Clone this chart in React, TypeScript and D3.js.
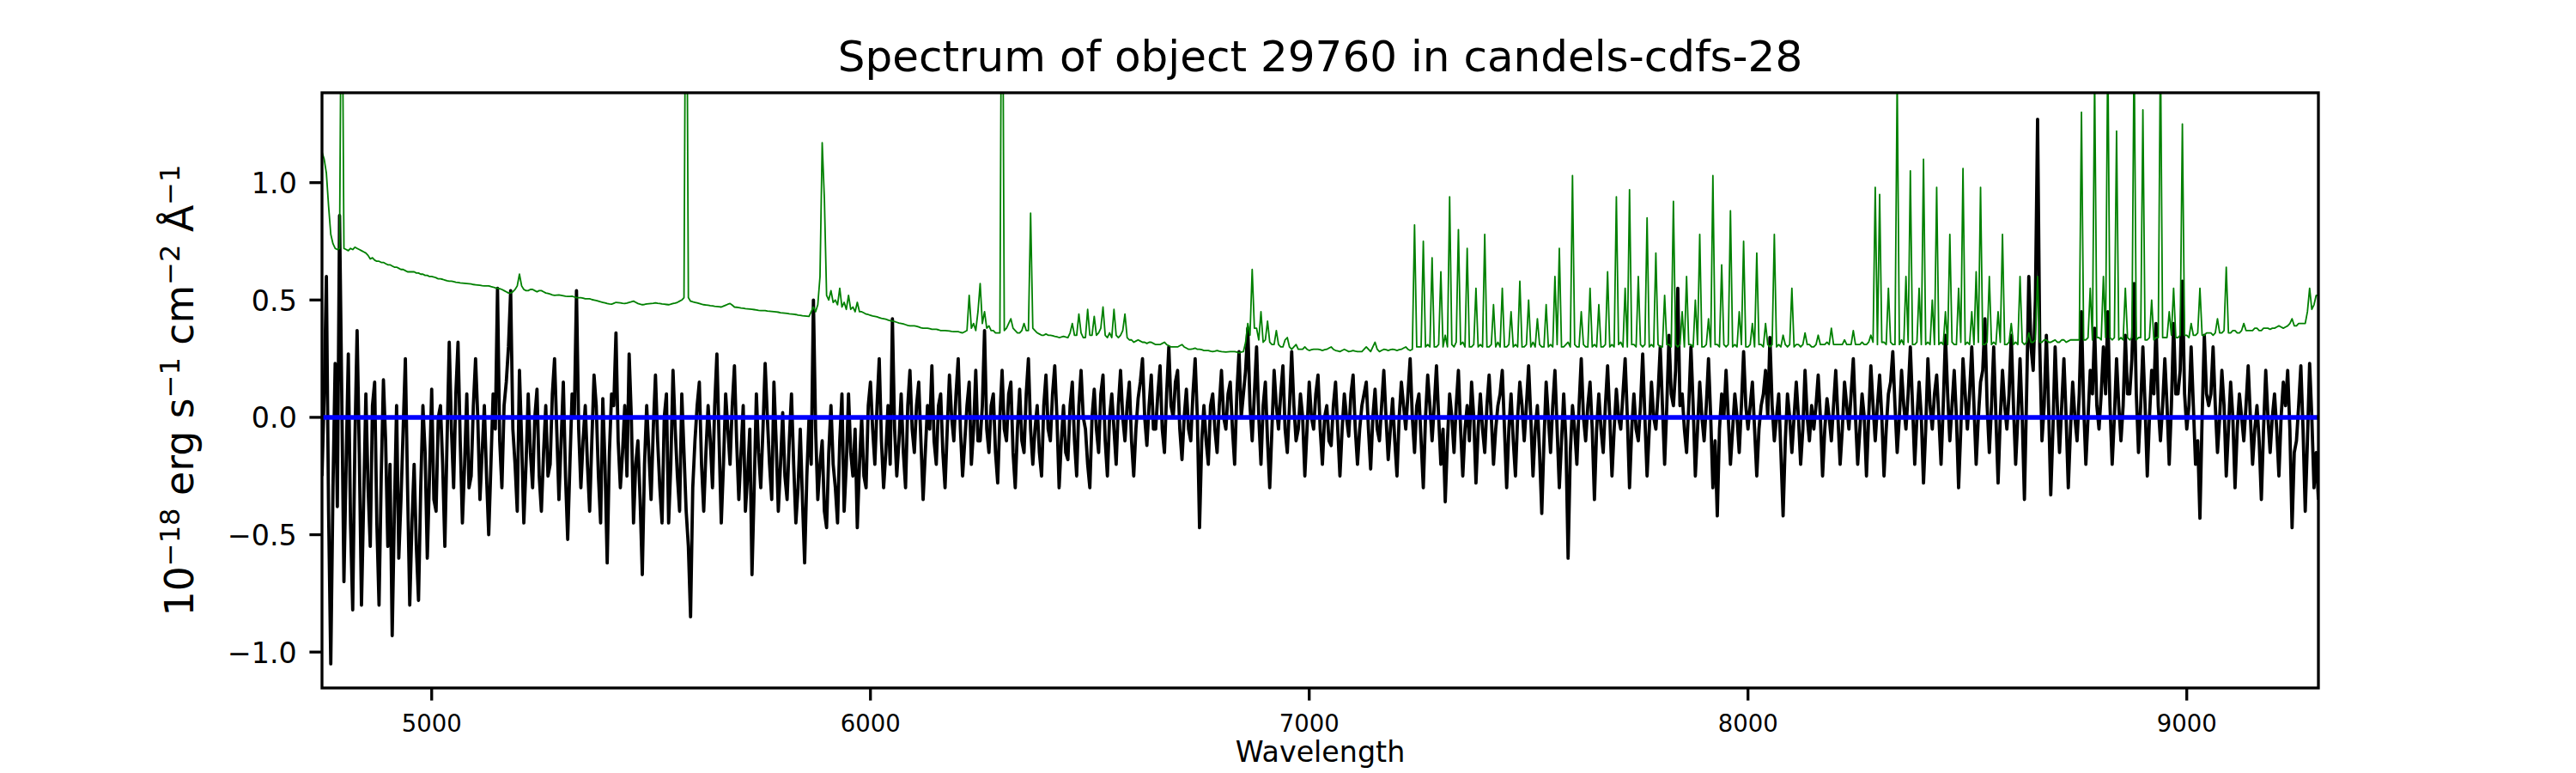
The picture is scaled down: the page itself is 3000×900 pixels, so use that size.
import React, { useMemo } from 'react';
import * as d3 from 'd3';

// wavelength grid of the extracted spectrum (Angstrom)
const WAVE_START = 4750;
const WAVE_STEP = 5;

// object flux, 1e-18 erg/s/cm2/A, one row per 100 A
const FLUX = [
  -0.25, 0.1, 0.6, -0.4, -1.05, -0.3, 0.23, -0.38, 0.86, 0.1, -0.7, -0.2, 0.27, -0.45, -0.82, -0.1, 0.37, -0.15, -0.8, -0.35, // 4750
  0.1, -0.3, -0.55, 0.05, 0.15, -0.45, -0.8, -0.25, 0.16, -0.1, -0.55, -0.2, -0.93, -0.4, 0.05, -0.6, -0.35, -0.05, 0.25, -0.3, // 4850
  -0.8, -0.45, -0.2, -0.55, -0.78, -0.3, 0.05, -0.15, -0.6, -0.25, 0.12, -0.35, -0.4, 0.0, 0.05, -0.2, -0.55, -0.1, 0.32, -0.05, // 4950
  -0.3, 0.1, 0.32, -0.1, -0.45, -0.2, 0.1, -0.3, -0.25, 0.05, 0.25, 0.0, -0.35, -0.15, 0.05, -0.25, -0.5, -0.2, 0.1, -0.05, // 5050
  0.55, -0.1, -0.3, 0.05, 0.15, 0.3, 0.54, -0.05, -0.2, -0.4, 0.2, -0.1, -0.45, -0.2, 0.1, -0.15, -0.3, 0.0, 0.12, -0.25, // 5150
  -0.4, -0.15, 0.05, -0.25, -0.2, 0.1, 0.25, -0.05, -0.35, -0.1, 0.15, -0.25, -0.52, -0.2, 0.1, 0.0, 0.54, -0.05, -0.3, -0.1, // 5250
  0.05, -0.2, -0.4, -0.1, 0.18, 0.05, -0.25, -0.45, 0.08, -0.2, -0.62, -0.15, 0.1, 0.05, 0.36, -0.1, -0.3, -0.15, 0.05, -0.25, // 5350
  0.27, 0.0, -0.45, -0.2, -0.1, -0.35, -0.67, -0.2, 0.05, -0.15, -0.35, -0.05, 0.18, -0.1, -0.3, -0.45, 0.0, 0.1, -0.45, -0.2, // 5450
  0.2, -0.05, -0.25, -0.4, 0.1, -0.15, -0.4, -0.55, -0.85, -0.3, -0.1, 0.05, 0.15, -0.2, -0.4, -0.15, 0.05, -0.1, -0.3, 0.05, // 5550
  0.27, -0.1, -0.45, -0.2, 0.1, -0.05, -0.2, 0.05, 0.22, -0.1, -0.35, -0.15, 0.05, -0.4, -0.25, -0.05, -0.67, -0.3, 0.1, -0.15, // 5650
  -0.3, -0.05, 0.23, 0.0, -0.2, -0.35, 0.15, -0.1, -0.4, -0.2, 0.02, -0.25, -0.35, -0.1, 0.1, -0.2, -0.45, -0.3, -0.05, -0.35, // 5750
  -0.62, -0.25, 0.0, -0.2, 0.5, -0.05, -0.35, -0.2, -0.1, -0.4, -0.47, -0.15, 0.05, -0.2, -0.3, -0.45, -0.1, 0.1, -0.4, -0.2, // 5850
  0.1, -0.15, -0.25, -0.05, -0.47, -0.2, 0.0, -0.25, -0.3, 0.05, 0.15, -0.05, -0.2, 0.05, 0.25, -0.1, -0.3, -0.15, 0.05, -0.2, // 5950
  0.42, -0.05, -0.25, -0.1, 0.1, -0.15, -0.3, 0.05, 0.2, -0.05, -0.15, 0.05, 0.15, -0.1, -0.35, -0.15, 0.05, -0.05, 0.22, -0.1, // 6050
  -0.2, 0.05, 0.1, -0.15, -0.3, -0.05, 0.18, 0.0, -0.1, 0.1, 0.25, -0.05, -0.25, -0.1, 0.05, 0.15, -0.2, -0.05, 0.2, -0.1, // 6150
  -0.1, 0.05, 0.37, -0.05, -0.15, 0.05, 0.1, -0.15, -0.28, 0.0, 0.2, -0.05, -0.1, 0.1, 0.15, -0.15, -0.3, -0.05, 0.12, -0.1, // 6250
  -0.15, 0.1, 0.25, -0.05, -0.2, -0.05, 0.05, -0.15, -0.25, 0.05, 0.18, -0.05, -0.1, 0.1, 0.22, 0.0, -0.3, -0.1, 0.05, -0.15, // 6350
  -0.18, 0.05, 0.15, -0.1, -0.25, 0.05, 0.2, 0.0, -0.05, -0.2, -0.3, 0.0, 0.12, -0.05, -0.15, 0.1, 0.18, -0.1, -0.25, 0.0, // 6450
  0.1, -0.05, -0.2, 0.05, 0.2, 0.0, -0.1, 0.05, 0.15, -0.1, -0.25, -0.05, 0.08, 0.15, 0.25, 0.0, -0.12, 0.05, 0.18, -0.05, // 6550
  -0.05, 0.1, 0.22, -0.05, -0.15, 0.1, 0.3, 0.05, 0.0, 0.15, 0.2, -0.05, -0.18, 0.0, 0.12, -0.05, -0.1, 0.1, 0.25, 0.0, // 6650
  -0.47, -0.1, 0.05, -0.1, -0.2, 0.05, 0.1, -0.05, -0.15, 0.05, 0.2, 0.0, -0.05, 0.1, 0.15, -0.05, -0.2, 0.1, 0.28, 0.0, // 6750
  0.1, 0.2, 0.38, 0.05, -0.1, 0.1, 0.3, 0.0, -0.2, 0.05, 0.15, -0.1, -0.3, -0.05, 0.2, 0.05, -0.05, 0.1, 0.22, -0.05, // 6850
  -0.15, 0.05, 0.28, 0.05, -0.1, -0.05, 0.1, 0.0, -0.25, -0.05, 0.15, 0.0, -0.05, 0.1, 0.18, -0.05, -0.2, 0.0, 0.05, -0.1, // 6950
  -0.12, 0.05, 0.15, -0.05, -0.25, -0.05, 0.1, 0.0, -0.08, 0.1, 0.18, -0.05, -0.2, -0.05, 0.05, 0.1, 0.15, -0.05, -0.22, 0.0, // 7050
  0.12, -0.05, -0.1, 0.05, 0.2, 0.0, -0.18, -0.05, 0.08, -0.1, -0.25, 0.0, 0.15, 0.05, -0.05, 0.1, 0.25, 0.0, -0.15, 0.05, // 7150
  0.1, -0.1, -0.3, 0.0, 0.18, 0.05, -0.1, 0.05, 0.22, 0.0, -0.2, -0.05, -0.36, -0.1, 0.1, 0.0, -0.15, 0.05, 0.2, -0.05, // 7250
  -0.25, -0.05, 0.05, -0.1, 0.15, 0.0, -0.28, -0.05, 0.1, -0.05, -0.15, 0.05, 0.18, 0.0, -0.2, -0.05, 0.05, 0.1, 0.2, -0.05, // 7350
  -0.3, -0.05, 0.1, -0.1, -0.25, 0.0, 0.15, 0.05, -0.1, 0.05, 0.22, 0.0, -0.25, -0.05, 0.05, -0.15, -0.41, -0.1, 0.15, 0.0, // 7450
  -0.15, 0.05, 0.2, -0.05, -0.3, -0.1, 0.1, -0.1, -0.6, -0.15, 0.05, -0.05, -0.2, 0.05, 0.25, 0.0, -0.1, 0.05, 0.15, -0.05, // 7550
  -0.35, -0.05, 0.1, -0.05, -0.15, 0.05, 0.22, 0.0, -0.25, -0.05, 0.12, 0.0, -0.05, 0.1, 0.25, 0.0, -0.3, -0.05, 0.1, -0.05, // 7650
  -0.1, 0.05, 0.27, 0.0, -0.25, -0.05, 0.15, 0.0, -0.05, 0.1, 0.3, 0.05, -0.2, 0.05, 0.35, 0.1, 0.05, 0.2, 0.55, 0.05, // 7750
  0.1, -0.05, -0.15, 0.05, 0.3, 0.05, -0.25, -0.05, 0.15, 0.0, -0.1, 0.05, 0.25, 0.0, -0.3, -0.1, -0.42, -0.05, 0.1, 0.0, // 7850
  0.2, 0.0, -0.2, -0.05, 0.1, 0.0, -0.15, 0.05, 0.28, 0.05, -0.05, 0.05, 0.15, -0.05, -0.25, -0.05, 0.05, 0.1, 0.2, 0.0, // 7950
  0.34, 0.05, -0.1, 0.0, 0.1, -0.15, -0.42, -0.1, 0.1, 0.0, -0.15, 0.0, 0.15, 0.0, -0.2, -0.05, 0.2, 0.0, -0.1, 0.05, // 8050
  -0.05, 0.05, 0.18, 0.0, -0.25, -0.05, 0.08, 0.0, -0.1, 0.05, 0.2, 0.0, -0.2, -0.05, 0.15, 0.05, -0.05, 0.1, 0.25, 0.0, // 8150
  -0.2, -0.05, 0.1, 0.0, -0.25, 0.0, 0.22, 0.05, -0.1, 0.05, 0.18, 0.0, -0.25, -0.05, 0.1, 0.15, 0.28, 0.05, -0.15, 0.0, // 8250
  0.2, 0.05, -0.05, 0.1, 0.3, 0.05, -0.2, 0.0, 0.15, 0.0, -0.28, -0.05, 0.25, 0.05, -0.05, 0.1, 0.18, 0.0, -0.2, 0.05, // 8350
  0.35, 0.1, -0.1, 0.05, 0.2, 0.0, -0.3, -0.05, 0.25, 0.1, -0.05, 0.1, 0.3, 0.05, -0.2, 0.0, 0.15, 0.2, 0.42, 0.05, // 8450
  -0.15, 0.05, 0.3, 0.0, -0.28, 0.0, 0.2, 0.05, -0.05, 0.1, 0.35, 0.05, -0.2, 0.0, 0.25, 0.0, -0.35, 0.1, 0.6, 0.3, // 8550
  0.2, 0.5, 1.27, 0.3, -0.1, 0.05, 0.35, 0.05, -0.33, -0.05, 0.3, 0.05, -0.15, 0.05, 0.25, 0.0, -0.3, -0.05, 0.15, 0.0, // 8650
  -0.1, 0.1, 0.45, 0.05, -0.2, 0.0, 0.2, 0.1, 0.38, 0.05, -0.05, 0.1, 0.3, 0.1, 0.45, 0.05, -0.2, 0.0, 0.25, 0.05, // 8750
  -0.1, 0.05, 0.35, 0.1, 0.1, 0.25, 0.57, 0.1, -0.15, 0.05, 0.3, 0.05, -0.25, 0.0, 0.2, 0.1, 0.4, 0.05, -0.1, 0.05, // 8850
  0.25, 0.05, -0.2, 0.05, 0.4, 0.1, 0.1, 0.2, 0.58, 0.1, -0.05, 0.05, 0.3, 0.05, -0.2, -0.1, -0.43, 0.0, 0.35, 0.1, // 8950
  0.05, 0.1, 0.3, 0.05, -0.15, 0.0, 0.2, 0.05, -0.25, -0.05, 0.15, 0.0, -0.3, -0.05, 0.1, 0.0, -0.1, 0.05, 0.22, 0.0, // 9050
  -0.2, -0.05, 0.05, -0.1, -0.35, -0.05, 0.2, 0.0, -0.15, 0.0, 0.1, -0.05, -0.25, 0.0, 0.15, 0.05, 0.2, -0.05, -0.47, -0.15, // 9150
  -0.1, 0.05, 0.22, -0.05, -0.4, -0.1, 0.23, 0.0, -0.3, -0.15, -0.35, // 9250
];

// sky / noise spectrum on the same grid
const SKY = [
  1.13, 1.1, 1.04, 0.9, 0.78, 0.74, 0.72, 0.715, 0.72, 2.2, 0.72, 0.715, 0.71, 0.72, 0.715, 0.725, 0.72, 0.715, 0.71, 0.705, // 4750
  0.7, 0.69, 0.675, 0.68, 0.67, 0.665, 0.665, 0.66, 0.66, 0.655, 0.65, 0.65, 0.645, 0.64, 0.64, 0.635, 0.63, 0.63, 0.625, 0.62, // 4850
  0.62, 0.62, 0.62, 0.615, 0.615, 0.61, 0.61, 0.605, 0.605, 0.6, 0.6, 0.598, 0.595, 0.59, 0.59, 0.588, 0.585, 0.582, 0.58, 0.58, // 4950
  0.578, 0.576, 0.575, 0.573, 0.572, 0.571, 0.57, 0.569, 0.568, 0.566, 0.565, 0.564, 0.563, 0.561, 0.56, 0.56, 0.56, 0.557, 0.555, 0.552, // 5050
  0.55, 0.548, 0.545, 0.54, 0.535, 0.53, 0.53, 0.535, 0.545, 0.56, 0.61, 0.56, 0.545, 0.54, 0.54, 0.545, 0.545, 0.54, 0.535, 0.54, // 5150
  0.54, 0.535, 0.53, 0.528, 0.525, 0.522, 0.52, 0.521, 0.522, 0.52, 0.518, 0.516, 0.515, 0.515, 0.516, 0.513, 0.51, 0.51, 0.51, 0.508, // 5250
  0.505, 0.505, 0.505, 0.502, 0.5, 0.498, 0.495, 0.492, 0.49, 0.488, 0.485, 0.483, 0.482, 0.486, 0.49, 0.489, 0.488, 0.486, 0.485, 0.487, // 5350
  0.49, 0.492, 0.495, 0.49, 0.485, 0.482, 0.48, 0.481, 0.483, 0.484, 0.485, 0.486, 0.488, 0.486, 0.485, 0.483, 0.482, 0.481, 0.48, 0.482, // 5450
  0.485, 0.487, 0.49, 0.495, 0.5, 0.51, 2.5, 0.51, 0.495, 0.492, 0.49, 0.488, 0.485, 0.482, 0.48, 0.479, 0.478, 0.476, 0.475, 0.473, // 5550
  0.472, 0.471, 0.47, 0.474, 0.478, 0.482, 0.485, 0.478, 0.47, 0.469, 0.468, 0.466, 0.465, 0.463, 0.462, 0.461, 0.46, 0.459, 0.458, 0.456, // 5650
  0.455, 0.455, 0.455, 0.453, 0.452, 0.451, 0.45, 0.449, 0.448, 0.446, 0.445, 0.444, 0.443, 0.441, 0.44, 0.439, 0.438, 0.436, 0.435, 0.433, // 5750
  0.432, 0.431, 0.43, 0.45, 0.47, 0.45, 0.48, 0.6, 1.17, 0.93, 0.52, 0.5, 0.54, 0.49, 0.5, 0.48, 0.55, 0.47, 0.49, 0.46, // 5850
  0.52, 0.46, 0.47, 0.45, 0.49, 0.45, 0.45, 0.445, 0.44, 0.438, 0.435, 0.432, 0.43, 0.428, 0.425, 0.422, 0.42, 0.418, 0.415, 0.412, // 5950
  0.41, 0.408, 0.405, 0.402, 0.4, 0.398, 0.395, 0.392, 0.39, 0.39, 0.39, 0.388, 0.385, 0.382, 0.38, 0.38, 0.38, 0.378, 0.375, 0.375, // 6050
  0.375, 0.373, 0.37, 0.37, 0.37, 0.369, 0.368, 0.366, 0.365, 0.365, 0.365, 0.362, 0.36, 0.365, 0.37, 0.52, 0.38, 0.4, 0.37, 0.45, // 6150
  0.57, 0.4, 0.45, 0.38, 0.39, 0.37, 0.37, 0.36, 0.36, 0.36, 2.5, 0.37, 0.38, 0.4, 0.42, 0.38, 0.37, 0.36, 0.36, 0.37, // 6250
  0.4, 0.37, 0.37, 0.87, 0.38, 0.37, 0.36, 0.355, 0.35, 0.35, 0.355, 0.35, 0.35, 0.348, 0.345, 0.343, 0.34, 0.342, 0.345, 0.342, // 6350
  0.34, 0.36, 0.4, 0.35, 0.35, 0.44, 0.36, 0.34, 0.34, 0.46, 0.35, 0.35, 0.43, 0.35, 0.36, 0.38, 0.47, 0.35, 0.34, 0.36, // 6450
  0.34, 0.46, 0.35, 0.34, 0.35, 0.37, 0.44, 0.34, 0.33, 0.33, 0.32, 0.325, 0.33, 0.325, 0.32, 0.32, 0.315, 0.32, 0.32, 0.315, // 6550
  0.31, 0.31, 0.31, 0.315, 0.32, 0.31, 0.305, 0.3, 0.3, 0.3, 0.3, 0.305, 0.31, 0.3, 0.295, 0.29, 0.29, 0.292, 0.295, 0.29, // 6650
  0.29, 0.288, 0.285, 0.285, 0.285, 0.282, 0.28, 0.282, 0.285, 0.282, 0.28, 0.279, 0.278, 0.279, 0.28, 0.28, 0.28, 0.278, 0.275, 0.278, // 6750
  0.28, 0.32, 0.4, 0.35, 0.63, 0.38, 0.38, 0.33, 0.45, 0.32, 0.33, 0.41, 0.32, 0.31, 0.31, 0.37, 0.31, 0.3, 0.3, 0.33, // 6850
  0.34, 0.3, 0.29, 0.3, 0.31, 0.29, 0.29, 0.29, 0.3, 0.29, 0.285, 0.288, 0.29, 0.29, 0.29, 0.288, 0.285, 0.288, 0.29, 0.295, // 6950
  0.3, 0.29, 0.285, 0.283, 0.28, 0.285, 0.29, 0.285, 0.28, 0.282, 0.285, 0.282, 0.28, 0.28, 0.28, 0.29, 0.3, 0.29, 0.28, 0.3, // 7050
  0.32, 0.29, 0.28, 0.285, 0.29, 0.288, 0.285, 0.288, 0.29, 0.288, 0.285, 0.288, 0.29, 0.295, 0.3, 0.29, 0.285, 0.29, 0.82, 0.3, // 7150
  0.3, 0.3, 0.75, 0.3, 0.31, 0.3, 0.68, 0.3, 0.3, 0.31, 0.62, 0.3, 0.35, 0.3, 0.94, 0.31, 0.3, 0.32, 0.8, 0.31, // 7250
  0.32, 0.3, 0.72, 0.3, 0.3, 0.31, 0.55, 0.3, 0.31, 0.3, 0.78, 0.3, 0.3, 0.31, 0.48, 0.3, 0.32, 0.3, 0.55, 0.3, // 7350
  0.3, 0.31, 0.45, 0.3, 0.31, 0.3, 0.58, 0.3, 0.3, 0.31, 0.5, 0.3, 0.32, 0.3, 0.42, 0.31, 0.3, 0.3, 0.48, 0.3, // 7450
  0.31, 0.3, 0.6, 0.31, 0.72, 0.3, 0.3, 0.31, 0.32, 0.3, 1.03, 0.31, 0.3, 0.3, 0.45, 0.31, 0.3, 0.3, 0.55, 0.3, // 7550
  0.31, 0.3, 0.48, 0.3, 0.3, 0.31, 0.62, 0.3, 0.31, 0.3, 0.94, 0.31, 0.32, 0.3, 0.55, 0.3, 0.97, 0.31, 0.31, 0.3, // 7650
  0.6, 0.31, 0.3, 0.31, 0.85, 0.3, 0.31, 0.3, 0.7, 0.31, 0.3, 0.3, 0.52, 0.31, 0.31, 0.3, 0.92, 0.31, 0.3, 0.31, // 7750
  0.45, 0.3, 0.6, 0.31, 0.31, 0.3, 0.5, 0.31, 0.78, 0.3, 0.3, 0.31, 0.42, 0.3, 1.03, 0.31, 0.31, 0.3, 0.65, 0.31, // 7850
  0.3, 0.31, 0.88, 0.3, 0.31, 0.3, 0.45, 0.31, 0.75, 0.3, 0.3, 0.31, 0.4, 0.3, 0.7, 0.31, 0.31, 0.3, 0.4, 0.31, // 7950
  0.3, 0.31, 0.78, 0.3, 0.31, 0.3, 0.35, 0.31, 0.3, 0.31, 0.55, 0.3, 0.31, 0.31, 0.3, 0.31, 0.36, 0.31, 0.31, 0.3, // 8050
  0.3, 0.31, 0.35, 0.31, 0.31, 0.31, 0.32, 0.31, 0.38, 0.31, 0.31, 0.31, 0.31, 0.31, 0.33, 0.31, 0.31, 0.31, 0.37, 0.31, // 8150
  0.31, 0.31, 0.32, 0.31, 0.31, 0.32, 0.35, 0.32, 0.98, 0.31, 0.95, 0.32, 0.32, 0.31, 0.55, 0.32, 0.31, 0.31, 1.45, 0.31, // 8250
  0.33, 0.31, 0.6, 0.32, 1.05, 0.31, 0.31, 0.32, 0.55, 0.31, 1.1, 0.31, 0.32, 0.31, 0.5, 0.31, 0.98, 0.31, 0.32, 0.31, // 8350
  0.45, 0.31, 0.78, 0.32, 0.31, 0.31, 0.55, 0.32, 1.06, 0.31, 0.32, 0.31, 0.45, 0.31, 0.62, 0.32, 0.98, 0.31, 0.31, 0.32, // 8450
  0.6, 0.31, 0.32, 0.31, 0.45, 0.32, 0.78, 0.31, 0.31, 0.32, 0.4, 0.31, 0.32, 0.31, 0.6, 0.32, 0.31, 0.32, 0.36, 0.32, // 8550
  0.32, 0.33, 0.6, 0.32, 0.32, 0.33, 0.33, 0.32, 0.32, 0.325, 0.33, 0.32, 0.32, 0.33, 0.33, 0.32, 0.325, 0.33, 0.33, 0.33, // 8650
  0.33, 0.33, 1.3, 0.33, 0.33, 0.34, 0.55, 0.33, 1.45, 0.34, 0.34, 0.33, 0.6, 0.34, 1.6, 0.34, 0.33, 0.34, 1.22, 0.33, // 8750
  0.34, 0.33, 0.55, 0.34, 0.33, 0.34, 1.6, 0.33, 0.34, 0.34, 1.31, 0.33, 0.33, 0.34, 0.5, 0.33, 0.34, 0.34, 1.6, 0.34, // 8850
  0.34, 0.34, 0.45, 0.35, 0.55, 0.34, 0.34, 0.35, 1.25, 0.35, 0.35, 0.34, 0.4, 0.35, 0.35, 0.36, 0.55, 0.35, 0.35, 0.36, // 8950
  0.36, 0.36, 0.35, 0.36, 0.42, 0.36, 0.36, 0.37, 0.64, 0.36, 0.36, 0.37, 0.37, 0.36, 0.36, 0.37, 0.4, 0.37, 0.37, 0.37, // 9050
  0.37, 0.38, 0.38, 0.37, 0.37, 0.38, 0.38, 0.38, 0.375, 0.38, 0.38, 0.385, 0.39, 0.385, 0.38, 0.385, 0.39, 0.4, 0.42, 0.39, // 9150
  0.39, 0.4, 0.4, 0.4, 0.4, 0.45, 0.55, 0.46, 0.48, 0.52, 0.52, // 9250
];

const X_TICKS = [5000, 6000, 7000, 8000, 9000];
const Y_TICKS = [-1.0, -0.5, 0.0, 0.5, 1.0];
const X_DOMAIN = [4750, 9300];
const Y_DOMAIN = [-1.153, 1.383];

const TITLE = 'Spectrum of object 29760 in candels-cdfs-28';
const X_LABEL = 'Wavelength';

const WIDTH = 3000;
const HEIGHT = 900;
const MARGIN = { top: 108, right: 300, bottom: 99, left: 375 };
const FONT = '"DejaVu Sans", sans-serif';

function Spectrum() {
  const boundsWidth = WIDTH - MARGIN.left - MARGIN.right;
  const boundsHeight = HEIGHT - MARGIN.top - MARGIN.bottom;

  const xScale = useMemo(
    () => d3.scaleLinear().domain(X_DOMAIN).range([0, boundsWidth]),
    [boundsWidth]
  );
  const yScale = useMemo(
    () => d3.scaleLinear().domain(Y_DOMAIN).range([boundsHeight, 0]),
    [boundsHeight]
  );

  const line = d3
    .line<number>()
    .x((_, i) => xScale(WAVE_START + i * WAVE_STEP))
    .y((d) => yScale(d));

  const fmt = (v: number) => v.toFixed(1).replace('-', '\u2212');

  const tick = 14.6;
  const spine = 3.3;

  return (
    <svg width={WIDTH} height={HEIGHT} style={{ display: 'block', background: '#fff' }}>
      <defs>
        <clipPath id="plot-area">
          <rect x={0} y={0} width={boundsWidth} height={boundsHeight} />
        </clipPath>
      </defs>

      <text
        x={MARGIN.left + boundsWidth / 2}
        y={83}
        textAnchor="middle"
        fontFamily={FONT}
        fontSize={50}
      >
        {TITLE}
      </text>

      <g transform={`translate(${MARGIN.left},${MARGIN.top})`}>
        <g clipPath="url(#plot-area)">
          <path d={line(FLUX) ?? ''} fill="none" stroke="#000" strokeWidth={3.8} strokeLinejoin="round" />
          <path d={line(SKY) ?? ''} fill="none" stroke="#008000" strokeWidth={1.8} strokeLinejoin="round" />
          <line x1={0} x2={boundsWidth} y1={yScale(0)} y2={yScale(0)} stroke="#0000ff" strokeWidth={5.5} />
        </g>

        {/* y ticks */}
        {Y_TICKS.map((v) => (
          <g key={v}>
            <line x1={-tick} x2={0} y1={yScale(v)} y2={yScale(v)} stroke="#000" strokeWidth={spine} />
            <text
              x={-tick - 14.6}
              y={yScale(v) + 12.5}
              textAnchor="end"
              fontFamily={FONT}
              fontSize={33.3}
            >
              {fmt(v)}
            </text>
          </g>
        ))}

        {/* x ticks */}
        {X_TICKS.map((v) => (
          <g key={v}>
            <line x1={xScale(v)} x2={xScale(v)} y1={boundsHeight} y2={boundsHeight + tick} stroke="#000" strokeWidth={spine} />
            <text
              x={xScale(v)}
              y={boundsHeight + 51}
              textAnchor="middle"
              fontFamily={FONT}
              fontSize={27.5}
            >
              {v}
            </text>
          </g>
        ))}

        <rect
          x={0}
          y={0}
          width={boundsWidth}
          height={boundsHeight}
          fill="none"
          stroke="#000"
          strokeWidth={spine}
        />

        <text
          x={boundsWidth / 2}
          y={boundsHeight + 86}
          textAnchor="middle"
          fontFamily={FONT}
          fontSize={33.3}
        >
          {X_LABEL}
        </text>

        <text
          transform={`translate(${225 - MARGIN.left},${boundsHeight / 2}) rotate(-90)`}
          textAnchor="middle"
          fontFamily={FONT}
          fontSize={45.8}
        >
          10
          <tspan fontSize={32} dy={-16}>{'\u221218'}</tspan>
          <tspan dy={16}>{' erg s'}</tspan>
          <tspan fontSize={32} dy={-16}>{'\u22121'}</tspan>
          <tspan dy={16}>{' cm'}</tspan>
          <tspan fontSize={32} dy={-16}>{'\u22122'}</tspan>
          <tspan dy={16}>{' \u00c5'}</tspan>
          <tspan fontSize={32} dy={-16}>{'\u22121'}</tspan>
        </text>
      </g>
    </svg>
  );
}

export default function App() {
  return (
    <div style={{ position: 'absolute', left: 0, top: 0 }}>
      <Spectrum />
    </div>
  );
}
